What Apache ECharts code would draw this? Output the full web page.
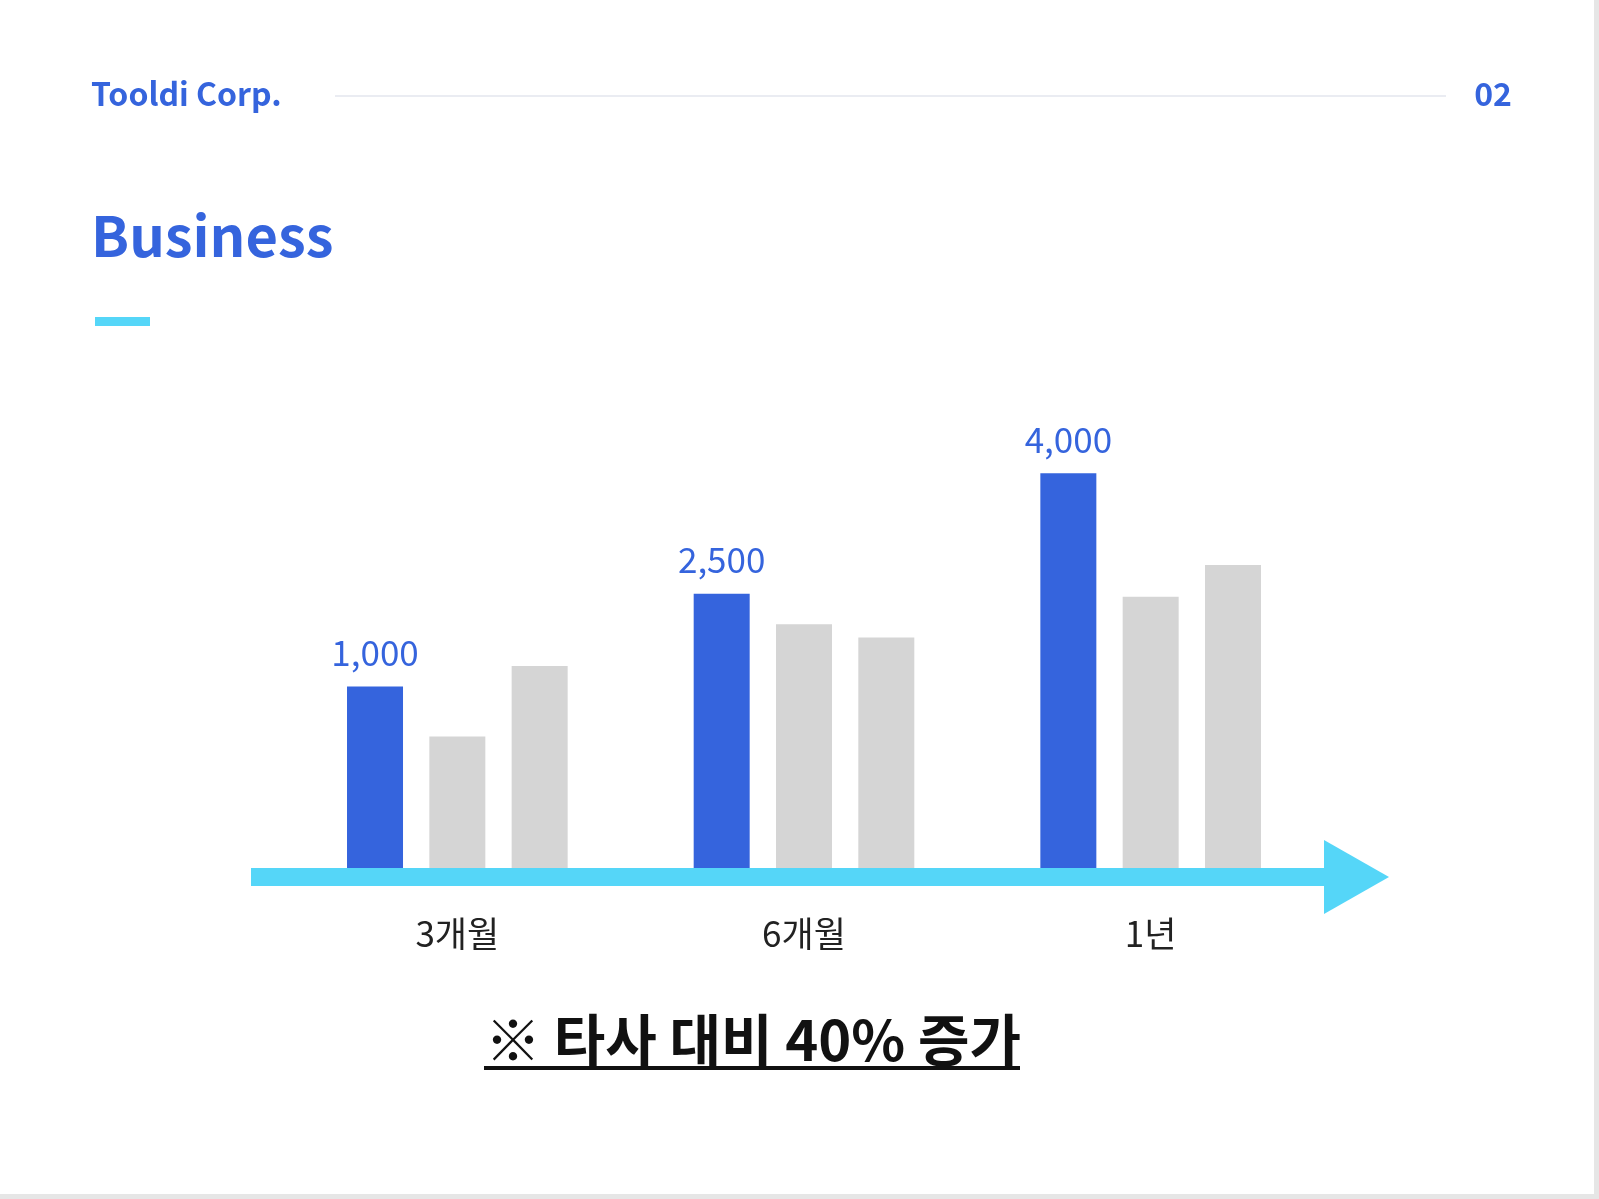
<!DOCTYPE html>
<html>
<head>
<meta charset="utf-8">
<script src="https://cdn.jsdelivr.net/npm/echarts@6/dist/echarts.min.js"></script>
<style>
  html, body { margin: 0; padding: 0; background: #fff; }
  #chart { width: 1599px; height: 1199px; }
</style>
</head>
<body>
<div id="chart"></div>
<script>
// bar heights (relative units), labels as printed
const categories = ["3개월", "6개월", "1년"];
const ours = [178, 269, 387];
const ourLabels = ["1,000", "2,500", "4,000"];
const otherA = [129, 239, 266];
const otherB = [198, 226, 297];

const BLUE = "#3564dd";
const GRAY = "#d5d5d5";
const CYAN = "#55d6f8";
const KR = "'Noto Sans CJK KR', 'Noto Sans', sans-serif";

const chart = echarts.init(document.getElementById("chart"));

chart.setOption({
  animation: false,
  backgroundColor: "#fff",
  grid: { left: 284, right: 275, top: 306, bottom: 331 },
  xAxis: {
    type: "category",
    data: categories,
    axisLine: { show: false },
    axisTick: { show: false },
    axisLabel: { color: "#222", fontSize: 35, fontFamily: KR, margin: 48 }
  },
  yAxis: { type: "value", min: 0, max: 551, show: false, splitLine: { show: false } },
  series: [
    {
      type: "bar", data: ours, barWidth: 56, barGap: "47%",
      itemStyle: { color: BLUE },
      label: {
        show: true, position: "top", distance: 16,
        color: BLUE, fontSize: 35, fontFamily: KR,
        formatter: p => ourLabels[p.dataIndex]
      }
    },
    { type: "bar", data: otherA, barWidth: 56, barGap: "47%", itemStyle: { color: GRAY } },
    { type: "bar", data: otherB, barWidth: 56, barGap: "47%", itemStyle: { color: GRAY } }
  ],
  graphic: [
    { type: "text", left: 91, top: 78, style: { text: "Tooldi Corp.", fill: BLUE, font: "bold 32px " + KR } },
    { type: "line", shape: { x1: 335, y1: 96, x2: 1446, y2: 96 }, style: { stroke: "#e3e6ee", lineWidth: 1.5 } },
    { type: "text", right: 87, top: 78, style: { text: "02", fill: BLUE, font: "bold 32px " + KR } },
    { type: "text", left: 91, top: 208, style: { text: "Business", fill: BLUE, font: "bold 56px " + KR } },
    { type: "rect", shape: { x: 95, y: 317, width: 55, height: 9 }, style: { fill: CYAN } },
    // timeline arrow
    { type: "rect", shape: { x: 251, y: 868, width: 1077, height: 18 }, style: { fill: CYAN } },
    { type: "polygon", shape: { points: [[1324, 840], [1389, 877], [1324, 914]] }, style: { fill: CYAN } },
    // footnote
    { type: "text", x: 753, y: 1040, style: { text: "※ 타사 대비 40% 증가", fill: "#111", font: "bold 56px " + KR, align: "center", verticalAlign: "middle" } },
    { type: "rect", shape: { x: 484, y: 1066, width: 536, height: 4 }, style: { fill: "#111" } },
    // slide edge
    { type: "rect", shape: { x: 1594, y: 0, width: 5, height: 1199 }, style: { fill: "#e6e6e6" } },
    { type: "rect", shape: { x: 0, y: 1194, width: 1599, height: 5 }, style: { fill: "#e6e6e6" } }
  ]
});
</script>
</body>
</html>
